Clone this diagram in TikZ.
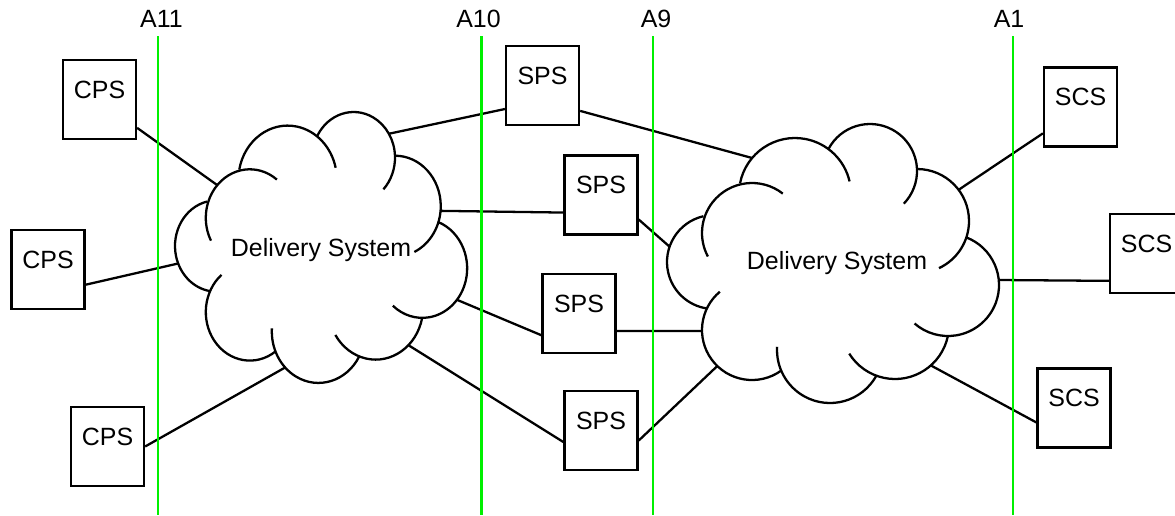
\documentclass[tikz,border=0pt]{standalone}
\usepackage{fontspec}
\setmainfont{Liberation Sans}
\usepackage{tikz}

\tikzset{
  sysbox/.style={draw, line width=1.3pt, minimum width=1.46cm, text height=0.76cm, text depth=0.82cm, inner sep=0pt},
  cloudline/.style={line width=1.3pt},
  refline/.style={draw={rgb,255:red,0;green,240;blue,0}, line width=1.4pt},
  link/.style={line width=1.3pt}
}

% puffs of the delivery system cloud, origin at its top left corner
\newcommand{\dsoutline}{%
  \draw[cloudline] (128,70) ++(191:56) arc[start angle=191, end angle=347, radius=56];
  \draw[cloudline] (203,47) ++(208:47) arc[start angle=208, end angle=404, radius=47];
  \draw[cloudline] (250,97) ++(270:52) arc[start angle=270, end angle=425, radius=52];
  \draw[cloudline] (281,161) ++(-69:51) arc[start angle=-69, end angle=131, radius=51];
  \draw[cloudline] (228,201) ++(12:54) arc[start angle=12, end angle=148, radius=54];
  \draw[cloudline] (163,226) ++(29:53) arc[start angle=29, end angle=183.5, radius=53];
  \draw[cloudline] (85,206) ++(54:50) arc[start angle=54, end angle=230, radius=50];
  \draw[cloudline] (47,138) ++(257:47) arc[start angle=257, end angle=99, radius=47];
  \draw[cloudline] (85,109) ++(308:50) arc[start angle=308, end angle=152, radius=50];
}

\begin{document}
\begin{tikzpicture}[x=0.02cm, y=-0.02cm, every node/.style={font=\fontsize{14.2pt}{17pt}\selectfont}]
  \useasboundingbox (0,0) rectangle (1175,515);

  % left cloud
  \begin{scope}[shift={(175,112)}, xscale=0.88, yscale=0.971]
    \dsoutline
    \coordinate (ds1a) at (48,75.3);
    \coordinate (ds1b) at (3.6,156);
    \coordinate (ds1c) at (125.2,263.1);
    \coordinate (ds1d) at (243,22.4);
    \coordinate (ds1e) at (301.8,101.8);
    \coordinate (ds1f) at (320.4,193.4);
    \coordinate (ds1g) at (265.2,240.1);
  \end{scope}
  \node (ds1) at (321,250) {Delivery System};

  % right cloud
  \begin{scope}[shift={(667,124)}]
    \dsoutline
    \coordinate (ds2a) at (85.1,34);
    \coordinate (ds2b) at (2.6,122.7);
    \coordinate (ds2c) at (35,207);
    \coordinate (ds2d) at (50.3,242);
    \coordinate (ds2e) at (291.6,65.8);
    \coordinate (ds2f) at (331.8,156);
    \coordinate (ds2g) at (263.8,241.4);
  \end{scope}
  \node (ds2) at (837,263) {Delivery System};

  \node (cps1) at (99.5,99.5) [sysbox] {CPS};
  \node (cps2) at (48,269.5) [sysbox] {CPS};
  \node (cps3) at (107.5,446.5) [sysbox] {CPS};

  \node (sps1) at (542.5,85.5) [sysbox] {SPS};
  \node (sps2) at (601,195) [sysbox] {SPS};
  \node (sps3) at (579,313.5) [sysbox] {SPS};
  \node (sps4) at (601,430.5) [sysbox] {SPS};

  \node (scs1) at (1080.5,107) [sysbox] {SCS};
  \node (scs2) at (1146.5,253.5) [sysbox] {SCS};
  \node (scs3) at (1074,408) [sysbox] {SCS};

  \draw[link] (cps1.-37) -- (ds1a);
  \draw[link] (cps2.-22) -- (ds1b);
  \draw[link] (cps3.east) -- (ds1c);
  \draw[link] (ds1d) -- (sps1.212);
  \draw[link] (sps1.-34) -- (ds2a);
  \draw[link] (ds1e) -- (sps2.205);
  \draw[link] (sps2.-33) -- (ds2b);
  \draw[link] (ds1f) -- (sps3.210);
  \draw[link] (sps3.-25) -- (ds2c);
  \draw[link] (ds1g) -- (sps4.197);
  \draw[link] (sps4.-15) -- (ds2d);
  \draw[link] (ds2e) -- (scs1.215);
  \draw[link] (ds2f) -- (scs2.216);
  \draw[link] (ds2g) -- (scs3.201);

  % interface lines
  \node (a11) at (161.5,19) {A11};
  \node (a10) at (478.5,19) {A10};
  \node (a9) at (656,19) {A9};
  \node (a1) at (1009,19) {A1};

  \coordinate (a11top) at (158,36);
  \coordinate (a11bot) at (158,515);
  \coordinate (a10top) at (481.5,36);
  \coordinate (a10bot) at (481.5,515);
  \coordinate (a9top) at (653,36);
  \coordinate (a9bot) at (653,515);
  \coordinate (a1top) at (1013,36);
  \coordinate (a1bot) at (1013,515);

  \draw[refline] (a11top) -- (a11bot);
  \draw[refline] (a10top) -- (a10bot);
  \draw[refline] (a9top) -- (a9bot);
  \draw[refline] (a1top) -- (a1bot);
\end{tikzpicture}
\end{document}
